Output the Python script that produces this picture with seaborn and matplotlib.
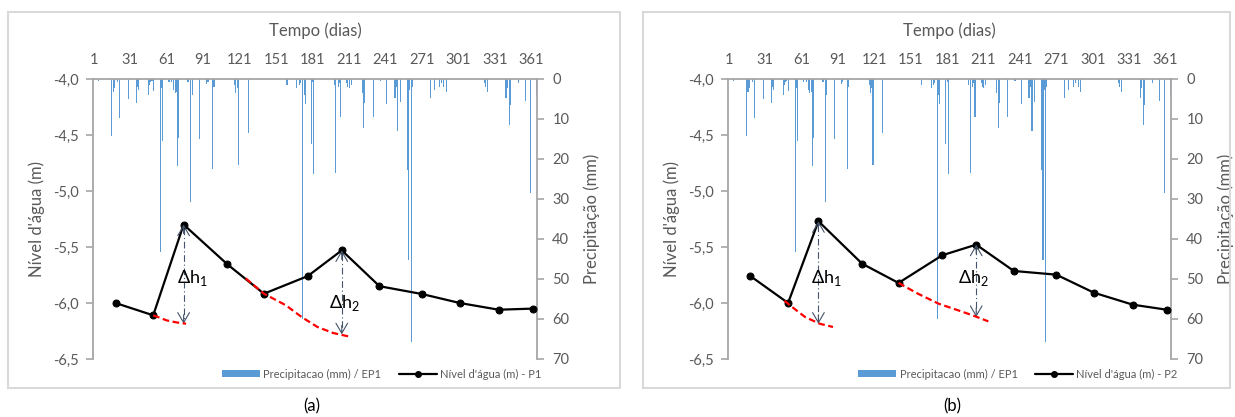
import matplotlib
matplotlib.use("Agg")
import matplotlib.pyplot as plt
import seaborn as sns
import pandas as pd
from matplotlib.patches import Rectangle, Patch
from matplotlib.lines import Line2D
from matplotlib.ticker import FuncFormatter

# ---------------- data ----------------
precip_days = [5, 16, 17, 18, 21, 22, 30, 36, 37, 38, 46, 47, 48, 49, 50, 56, 57, 58,
               63, 65, 67, 68, 69, 70, 71, 78, 79, 81, 82, 88, 94, 95, 99, 100,
               117, 118, 119, 120, 128, 160, 168, 170, 171, 173, 174, 175, 180, 181, 182,
               199, 200, 202, 203, 204, 209, 210, 211, 213, 222, 223, 224, 231, 237,
               242, 248, 249, 250, 251, 253, 259, 260, 261, 262, 263, 278, 281, 285,
               287, 289, 291, 322, 323, 325, 340, 341, 343, 344, 350, 356, 360, 365]
precip_mm = [0.5, 14.3, 3.2, 2.3, 0.7, 9.7, 5.1, 6.1, 1.9, 2.7, 4.0, 1.5, 0.8, 0.6, 3.0, 43.3, 2.3, 15.4,
             0.7, 0.7, 2.8, 3.6, 3.2, 21.7, 14.8, 0.8, 0.7, 30.8, 4.0, 15.0, 1.3, 0.8, 22.6, 1.9,
             1.5, 3.6, 2.3, 21.5, 13.6, 1.5, 2.2, 1.5, 1.1, 60.0, 4.0, 6.3, 16.3, 0.7, 23.8,
             1.5, 23.4, 1.9, 1.1, 9.4, 1.1, 1.9, 2.3, 1.5, 3.6, 12.3, 6.0, 9.4, 0.5,
             6.3, 4.8, 4.8, 1.9, 13.0, 5.7, 22.8, 45.3, 2.7, 65.7, 1.9, 4.8, 2.7, 1.9,
             1.1, 1.9, 3.2, 1.1, 1.9, 3.2, 4.8, 2.2, 11.5, 6.5, 1.1, 5.6, 28.6, 4.0]

level_days = [19, 50, 75, 111, 141, 177, 205, 236, 271, 302, 334, 362]
level_p1 = [-6.00, -6.11, -5.30, -5.655, -5.917, -5.76, -5.53, -5.85, -5.92, -6.00, -6.06, -6.05]
level_p2 = [-5.76, -6.00, -5.27, -5.649, -5.821, -5.574, -5.479, -5.714, -5.747, -5.908, -6.015, -6.06]

# recession curves (red dashed)
rec_a1_days = [50, 61, 69, 77]
rec_a1_vals = [-6.11, -6.155, -6.173, -6.185]
rec_a2_days = [126, 141, 159, 172, 185, 198, 213]
rec_a2_vals = [-5.78, -5.917, -6.02, -6.125, -6.214, -6.268, -6.304]
rec_b1_days = [47, 55, 64, 76, 87]
rec_b1_vals = [-5.98, -6.05, -6.125, -6.185, -6.214]
rec_b2_days = [141, 157, 174, 190, 202, 215]
rec_b2_vals = [-5.821, -5.917, -6.006, -6.065, -6.11, -6.164]

# delta h arrows: day, top, bottom ; text day, text level
dh_a = [(75, -5.30, -6.185, 82.6, -5.78, "1"), (205, -5.53, -6.28, 207.6, -6.0, "2")]
dh_b = [(75, -5.27, -6.185, 81.4, -5.777, "1"), (205, -5.479, -6.125, 203, -5.78, "2")]

xticks = list(range(1, 362, 30))
level_ticks = [-4.0, -4.5, -5.0, -5.5, -6.0, -6.5]
precip_ticks = [0, 10, 20, 30, 40, 50, 60, 70]

labels_a = ["Precipitacao (mm) / EP1", "Nível d'água (m) - P1"]
labels_b = ["Precipitacao (mm) / EP1", "Nível d'água (m) - P2"]

# ---------------- style ----------------
sns.set_theme(style="white")
plt.rcParams["font.family"] = ["Lato", "DejaVu Sans"]
plt.rcParams["mathtext.fontset"] = "custom"
plt.rcParams["mathtext.rm"] = "Lato"

GRAY = "#595959"
SPINE = "#A6A6A6"
BLUE = "#5B9BD5"

W, H = 1235, 417
fig = plt.figure(figsize=(W / 100, H / 100), dpi=100)

precip_df = pd.DataFrame({"day": precip_days, "mm": precip_mm})


def panel(left_px, right_px, levels, recs, dhs, labels, legend_x):
    ax = fig.add_axes([left_px / W, 1 - 359 / H, (right_px - left_px) / W, 280 / H])
    ax2 = ax.twinx()
    # precipitation bars (inverted secondary axis)
    sns.barplot(data=precip_df, x="day", y="mm", native_scale=True, ax=ax2,
                color=BLUE, saturation=1, width=0.9, errorbar=None, linewidth=0)
    ax2.set_ylim(70, 0)
    ax2.set_yticks(precip_ticks)
    ax2.set_ylabel("Precipitação (mm)", color=GRAY, fontsize=12, labelpad=10)
    ax2.yaxis.set_label_position("right")
    ax2.yaxis.tick_right()
    ax2.tick_params(axis="y", colors=SPINE, labelcolor=GRAY, labelsize=10.5,
                    length=5, width=1.2, pad=6, direction="out")
    ax2.set_xlabel("")
    for s in ["left", "top", "bottom"]:
        ax2.spines[s].set_visible(False)
    ax2.spines["right"].set_color(SPINE)
    ax2.spines["right"].set_linewidth(1.3)

    # level line above bars
    ax.set_zorder(ax2.get_zorder() + 1)
    ax.patch.set_visible(False)
    sns.lineplot(x=level_days, y=levels, ax=ax, color="black", marker="o",
                 markersize=5, markeredgecolor="black", linewidth=1.6, zorder=3)
    for d, v in recs:
        sns.lineplot(x=d, y=v, ax=ax, color="red", linewidth=1.6,
                     linestyle=(0, (3, 1.6)), zorder=4)
    for (xd, top, bot, tx, ty, sub) in dhs:
        ax.plot([xd, xd], [top - 0.03, bot + 0.03], color="#44546A", lw=0.8,
                linestyle=(0, (6, 2.5, 1, 2.5)), zorder=2)
        for yend, ystart in [(top, top - 0.08), (bot, bot + 0.08)]:
            ax.annotate("", xy=(xd, yend), xytext=(xd, ystart),
                        arrowprops=dict(arrowstyle="->,head_length=0.6,head_width=0.35",
                                        color="#44546A", lw=0.8, shrinkA=0, shrinkB=0))
        ax.text(tx, ty, "Δh$_{\\mathregular{" + sub + "}}$", ha="center", va="center",
                fontsize=13, color="black", zorder=5)

    ax.set_xlim(0.5, 365.5)
    ax.set_ylim(-6.5, -4.0)
    ax.set_yticks(level_ticks)
    ax.yaxis.set_major_formatter(FuncFormatter(lambda v, p: f"{v:.1f}".replace(".", ",")))
    ax.set_xticks(xticks)
    ax.set_xticklabels([str(t) for t in xticks])
    ax.xaxis.tick_top()
    ax.xaxis.set_label_position("top")
    ax.set_xlabel("Tempo (dias)", color=GRAY, fontsize=12, labelpad=12)
    ax.set_ylabel("Nível d'água (m)", color=GRAY, fontsize=12, labelpad=6)
    ax.tick_params(axis="x", length=0, pad=9, labelcolor=GRAY, labelsize=10.5)
    ax.tick_params(axis="y", colors=SPINE, labelcolor=GRAY, labelsize=10.5,
                   length=5, width=1.2, pad=5, direction="out", left=True)
    for s in ["right", "bottom"]:
        ax.spines[s].set_visible(False)
    for s in ["left", "top"]:
        ax.spines[s].set_color(SPINE)
        ax.spines[s].set_linewidth(1.3)
    ax2.set_xlim(0.5, 365.5)
    ax2.tick_params(axis="x", top=False, bottom=False, labeltop=False, labelbottom=False)

    handles = [Patch(facecolor=BLUE, edgecolor="none"),
               Line2D([], [], color="black", marker="o", markersize=4, lw=1.6)]
    leg = ax.legend(handles, labels, loc="center right", bbox_to_anchor=(legend_x, -0.054),
                    ncol=2, frameon=False, fontsize=8, handlelength=3.4, handleheight=0.6,
                    handletextpad=0.3, columnspacing=1.6, borderaxespad=0, borderpad=0)
    for t in leg.get_texts():
        t.set_color(GRAY)
    return ax


panel(93, 537, level_p1, [(rec_a1_days, rec_a1_vals), (rec_a2_days, rec_a2_vals)],
      dh_a, labels_a, 1.01)
panel(728, 1171, level_p2, [(rec_b1_days, rec_b1_vals), (rec_b2_days, rec_b2_vals)],
      dh_b, labels_b, 1.015)

# chart-area frames
for x0, x1 in [(8, 620), (643, 1230)]:
    fig.patches.append(Rectangle((x0 / W, 1 - 388 / H), (x1 - x0) / W, (388 - 12) / H,
                                 transform=fig.transFigure, fill=False,
                                 edgecolor="#D9D9D9", linewidth=1.5))

fig.text(312 / W, 1 - 406 / H, "(a)", ha="center", va="center", fontsize=12, color="black")
fig.text(952 / W, 1 - 406 / H, "(b)", ha="center", va="center", fontsize=12, color="black")

fig.savefig("out.png", dpi=100, facecolor="white")
